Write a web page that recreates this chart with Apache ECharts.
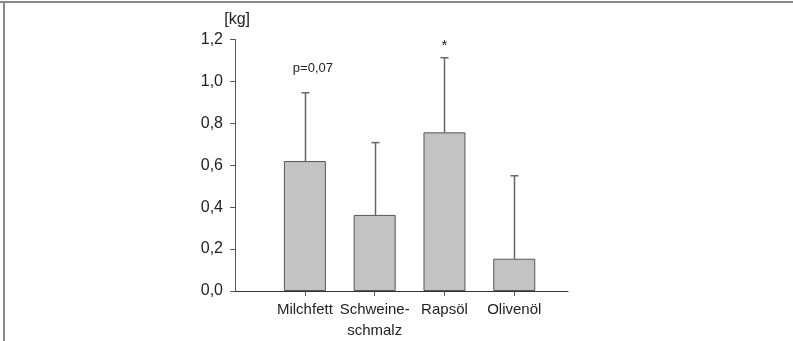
<!DOCTYPE html>
<html><head><meta charset="utf-8">
<script src="https://cdn.jsdelivr.net/npm/echarts@6/dist/echarts.min.js"></script>
<style>html,body{margin:0;padding:0;background:#fff}#c{width:793px;height:341px}</style>
</head><body><div id="c"></div>
<script>
const categories = ['Milchfett', 'Schweine-\nschmalz', 'Rapsöl', 'Olivenöl'];
const positions = [1, 2, 3, 4];
const means = [0.62, 0.363, 0.757, 0.154];
const errTops = [0.946, 0.708, 1.113, 0.55];
const annotations = ['p=0,07', '', '*', ''];
const yTicks = [0, 0.2, 0.4, 0.6, 0.8, 1.0, 1.2];

const chart = echarts.init(document.getElementById('c'), null, {renderer: 'canvas'});
const font = '"Liberation Sans", Arial, sans-serif';
const axisColor = '#555';

chart.setOption({
  animation: false,
  backgroundColor: '#fff',
  grid: {left: 233, right: 225, top: 39.5, bottom: 50},
  xAxis: {
    type: 'value', min: -0.03, max: 4.77,
    splitLine: {show: false},
    axisLine: {show: true, lineStyle: {color: '#333', width: 1}},
    axisTick: {show: true, customValues: positions, length: 5, lineStyle: {color: axisColor}},
    axisLabel: {
      customValues: positions,
      formatter: v => categories[positions.indexOf(Math.round(v))] || '',
      color: '#222', fontFamily: font, fontSize: 15, margin: 8, lineHeight: 21,
      verticalAlign: 'top'
    }
  },
  yAxis: {
    type: 'value', min: 0, max: 1.2, interval: 0.2,
    name: '[kg]', nameLocation: 'end', nameGap: 12,
    nameTextStyle: {color: '#222', fontFamily: font, fontSize: 16, align: 'center', padding: [0, 0, 0, 4]},
    splitLine: {show: false},
    axisLine: {show: true, lineStyle: {color: axisColor, width: 1}},
    axisTick: {show: true, length: 5, lineStyle: {color: axisColor}},
    axisLabel: {
      formatter: v => v.toFixed(1).replace('.', ','),
      color: '#222', fontFamily: font, fontSize: 16, margin: 10
    }
  },
  series: [
    {
      type: 'bar', barWidth: 42,
      data: positions.map((p, i) => [p, means[i]]),
      itemStyle: {color: '#c3c3c3', borderColor: '#555', borderWidth: 1},
      z: 2
    },
    {
      type: 'custom', z: 1,
      data: positions.map((p, i) => [p, means[i], errTops[i]]),
      renderItem: (params, api) => {
        const base = api.coord([api.value(0), api.value(1)]);
        const top = api.coord([api.value(0), api.value(2)]);
        const x = Math.round(base[0]) + 0.5;
        return {
          type: 'group',
          children: [
            {type: 'line', shape: {x1: x, y1: base[1], x2: x, y2: top[1]}, style: {stroke: '#666', lineWidth: 1.5}},
            {type: 'line', shape: {x1: x - 4, y1: top[1], x2: x + 4, y2: top[1]}, style: {stroke: '#666', lineWidth: 1.5}}
          ]
        };
      }
    },
    {
      type: 'custom', z: 3,
      data: positions.map((p, i) => [p, errTops[i], i]),
      renderItem: (params, api) => {
        const i = api.value(2);
        const txt = annotations[i];
        if (!txt) return null;
        const pt = api.coord([api.value(0), api.value(1)]);
        const isStar = txt === '*';
        return {
          type: 'text',
          x: pt[0] + (isStar ? 0 : 8), y: pt[1] - (isStar ? 12 : 24),
          style: {text: txt, fill: '#222', font: (isStar ? '15px ' : '13px ') + font, align: 'center', verticalAlign: 'middle'}
        };
      }
    }
  ],
  graphic: [
    {type: 'line', shape: {x1: 0, y1: 2, x2: 793, y2: 2}, style: {stroke: '#888', lineWidth: 2}},
    {type: 'line', shape: {x1: 4, y1: 2, x2: 4, y2: 341}, style: {stroke: '#888', lineWidth: 2}}
  ]
});
</script></body></html>
